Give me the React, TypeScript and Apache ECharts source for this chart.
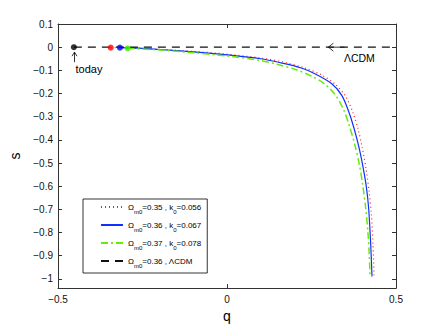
import React, { useEffect, useRef } from "react";
import * as echarts from "echarts";

// ---- data ----
const redQ = [-0.344, -0.25, -0.1, 0, 0.1, 0.17, 0.23, 0.28, 0.32, 0.35, 0.372, 0.388, 0.401, 0.412, 0.42, 0.427, 0.432, 0.435];
const redS = [-0.002, -0.006, -0.018, -0.03, -0.047, -0.065, -0.09, -0.12, -0.16, -0.21, -0.28, -0.355, -0.44, -0.53, -0.62, -0.72, -0.85, -0.985];

const blueQ = [-0.317, -0.25, -0.2, -0.1, 0, 0.1, 0.16, 0.22, 0.26, 0.31, 0.34, 0.36, 0.376, 0.391, 0.403, 0.412, 0.419, 0.425, 0.429];
const blueS = [-0.002, -0.005, -0.01, -0.02, -0.033, -0.05, -0.068, -0.09, -0.115, -0.158, -0.209, -0.278, -0.351, -0.436, -0.522, -0.6, -0.694, -0.845, -0.99];

const greenQ = [-0.294, -0.2, -0.1, 0, 0.1, 0.15, 0.2, 0.25, 0.29, 0.32, 0.345, 0.362, 0.378, 0.392, 0.402, 0.41, 0.417, 0.421, 0.423];
const greenS = [-0.005, -0.012, -0.024, -0.038, -0.058, -0.075, -0.095, -0.125, -0.16, -0.205, -0.27, -0.34, -0.42, -0.51, -0.6, -0.69, -0.8, -0.9, -0.98];

const lcdmQ = [-0.453, 0.5];
const lcdmS = [0, 0];

const todayQ = -0.453;
const todayDots = [
  { q: -0.453, s: 0, color: "#000000" },
  { q: -0.344, s: -0.002, color: "#ff0000" },
  { q: -0.317, s: -0.002, color: "#0000ff" },
  { q: -0.294, s: -0.005, color: "#33ee00" },
];
const lcdmArrowQ = 0.3;

const yTicks = [0.1, 0, -0.1, -0.2, -0.3, -0.4, -0.5, -0.6, -0.7, -0.8, -0.9, -1];

const names = [
  "{n|Ω}{sub|m0}{n|=0.35 , k}{sub|0}{n|=0.056}",
  "{n|Ω}{sub|m0}{n|=0.36 , k}{sub|0}{n|=0.067}",
  "{n|Ω}{sub|m0}{n|=0.37 , k}{sub|0}{n|=0.078}",
  "{n|Ω}{sub|m0}{n|=0.36 , ΛCDM}",
];
const colors = ["#ff2020", "#1030ff", "#66ee00", "#111111"];

const zip = (q: number[], s: number[]) => q.map((v, i) => [v, s[i]]);
const fmt = (v: number) => String(Math.round(v * 10) / 10).replace("-", "\u2212");

const FONT = "Liberation Sans";

export default function App() {
  const ref = useRef<HTMLDivElement>(null);
  useEffect(() => {
    if (!ref.current) return;
    const chart = echarts.init(ref.current, undefined, { renderer: "svg" });
    const axisLine = { show: true, onZero: false, lineStyle: { color: "#333", width: 1 } };
    const option: any = {
      animation: false,
      textStyle: { fontFamily: FONT },
      grid: { left: 56, right: 40, top: 24, bottom: 38 },
      xAxis: [
        {
          type: "value", min: -0.5, max: 0.5, interval: 0.5, position: "bottom",
          axisLine, splitLine: { show: false },
          axisTick: { inside: true, length: 4, lineStyle: { color: "#333" } },
          axisLabel: { formatter: fmt, fontSize: 10, color: "#111", margin: 6, fontFamily: FONT },
          name: "q", nameLocation: "middle", nameGap: 19,
          nameTextStyle: { fontSize: 14, color: "#000", fontFamily: FONT },
        },
        {
          type: "value", min: -0.5, max: 0.5, interval: 0.5, position: "top",
          axisLine, splitLine: { show: false },
          axisTick: { inside: true, length: 4, lineStyle: { color: "#333" } },
          axisLabel: { show: false },
        },
      ],
      yAxis: [
        {
          type: "value", min: -1.04, max: 0.1, position: "left",
          axisLine, splitLine: { show: false },
          axisTick: { inside: true, length: 4, customValues: yTicks, lineStyle: { color: "#333" } },
          axisLabel: { customValues: yTicks, formatter: fmt, fontSize: 10, color: "#111", margin: 5, fontFamily: FONT },
          name: "s", nameLocation: "middle", nameGap: 36, nameRotate: 90,
          nameTextStyle: { fontSize: 14, color: "#000", fontFamily: FONT },
        },
        {
          type: "value", min: -1.04, max: 0.1, position: "right",
          axisLine, splitLine: { show: false },
          axisTick: { inside: true, length: 4, customValues: yTicks, lineStyle: { color: "#333" } },
          axisLabel: { show: false },
        },
      ],
      legend: {
        data: names,
        orient: "vertical",
        left: 83, top: 199,
        backgroundColor: "#fff",
        borderColor: "#000", borderWidth: 0.8, borderRadius: 0,
        padding: [4, 6, 4, 17],
        itemWidth: 22, itemHeight: 8, itemGap: 6,
        itemStyle: { opacity: 0 },
        textStyle: {
          fontFamily: FONT,
          rich: {
            n: { fontSize: 8, lineHeight: 16, color: "#000", fontFamily: FONT },
            sub: { fontSize: 6, lineHeight: 8, verticalAlign: "bottom", color: "#000", fontFamily: FONT },
          },
        },
      },
      series: [
        {
          name: names[0], type: "line", data: zip(redQ, redS), showSymbol: false, symbol: "none",
          smooth: 0.3, lineStyle: { color: colors[0], width: 1.2, type: [1, 3] }, itemStyle: { color: colors[0] },
        },
        {
          name: names[1], type: "line", data: zip(blueQ, blueS), showSymbol: false, symbol: "none",
          smooth: 0.3, lineStyle: { color: colors[1], width: 1.2, type: "solid" }, itemStyle: { color: colors[1] },
        },
        {
          name: names[2], type: "line", data: zip(greenQ, greenS), showSymbol: false, symbol: "none",
          smooth: 0.3, lineStyle: { color: colors[2], width: 1.5, type: [7, 3, 2, 3] }, itemStyle: { color: colors[2] },
        },
        {
          name: names[3], type: "line", data: zip(lcdmQ, lcdmS), showSymbol: false, symbol: "none",
          lineStyle: { color: colors[3], width: 1.2, type: [8, 6] }, itemStyle: { color: colors[3] },
        },
        {
          type: "scatter", symbolSize: 6, z: 5,
          data: todayDots.map((d) => ({ value: [d.q, d.s], itemStyle: { color: d.color } })),
        },
      ],
    };
    chart.setOption(option);

    const p0 = chart.convertToPixel({ xAxisIndex: 0, yAxisIndex: 0 }, [todayQ, 0]) as number[];
    const pA = chart.convertToPixel({ xAxisIndex: 0, yAxisIndex: 0 }, [lcdmArrowQ, 0]) as number[];
    const ax = Math.round(p0[0]) + 0.5;
    const ay = p0[1];
    chart.setOption({
      graphic: [
        { type: "line", shape: { x1: ax, y1: ay + 15, x2: ax, y2: ay + 5 }, style: { stroke: "#000", lineWidth: 0.8 } },
        { type: "polyline", shape: { points: [[ax - 2.5, ay + 9], [ax, ay + 5], [ax + 2.5, ay + 9]] }, style: { stroke: "#000", lineWidth: 0.8, fill: null } },
        { type: "text", x: ax + 1, y: ay + 16, style: { text: "today", fontSize: 11, fontFamily: FONT, fill: "#000" } },
        { type: "line", shape: { x1: pA[0], y1: pA[1], x2: pA[0] + 16, y2: pA[1] }, style: { stroke: "#000", lineWidth: 0.8 } },
        { type: "polyline", shape: { points: [[pA[0] + 5, pA[1] - 4], [pA[0], pA[1]], [pA[0] + 5, pA[1] + 4]] }, style: { stroke: "#000", lineWidth: 0.8, fill: null } },
        { type: "text", x: pA[0] + 31, y: pA[1] + 11, style: { text: "ΛCDM", fontSize: 10.5, fontFamily: FONT, fill: "#000", align: "center", verticalAlign: "middle" } },
      ],
    });
    return () => chart.dispose();
  }, []);
  return (
    <div
      ref={ref}
      style={{ position: "fixed", left: 0, top: 0, width: 436, height: 328, background: "#fff" }}
    />
  );
}
